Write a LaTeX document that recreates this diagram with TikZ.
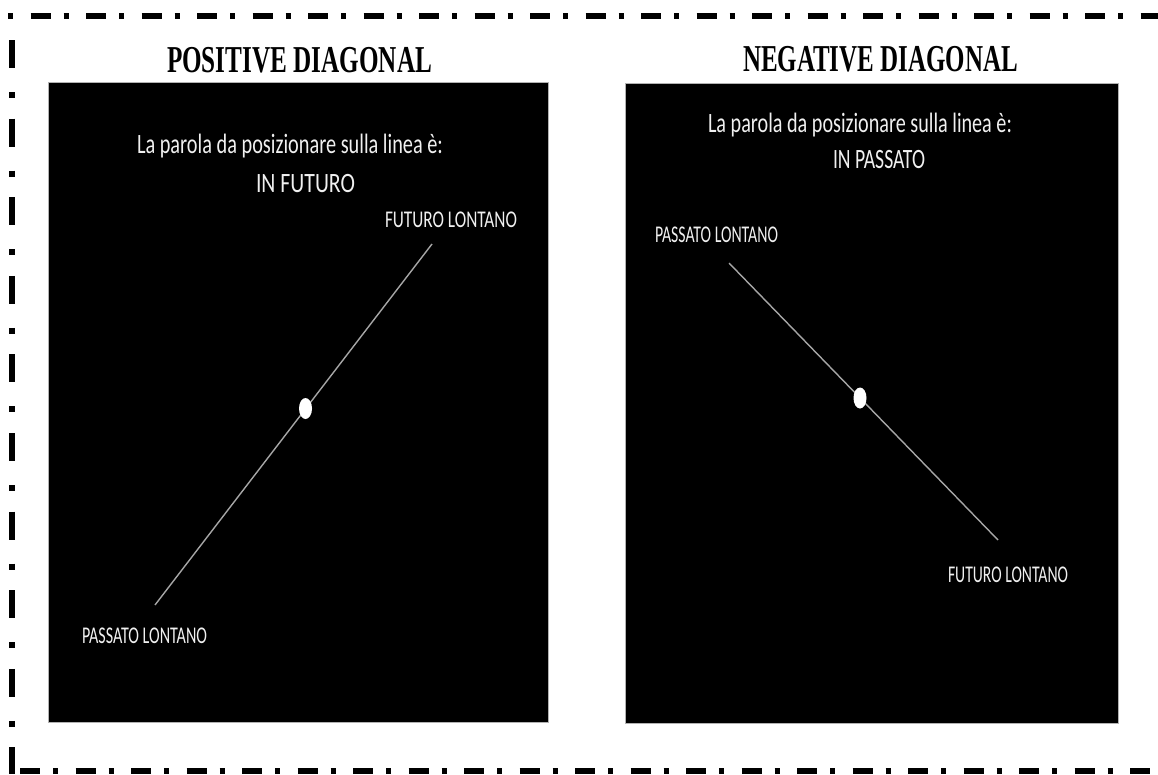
\documentclass[tikz,border=0pt]{standalone}
\usepackage{fontspec}
\usetikzlibrary{shapes.geometric}
\newfontfamily\calib{Carlito}
\newfontfamily\tnr{Liberation Serif}
\newcommand\fitw[3]{\resizebox{#1pt}{\height}{\fontsize{#2pt}{#2pt}\selectfont #3}}
\begin{document}
\begin{tikzpicture}[x=1pt,y=-1pt,
  every node/.style={inner sep=0pt, outer sep=0pt},
  title/.style={anchor=base west, text=black},
  txt/.style={anchor=base west, text=white!94!black},
  panel/.style={fill=black, draw=gray!60, line width=1pt, anchor=north west, minimum height=640pt},
  tline/.style={draw=gray!70!white, line width=1.4pt},
  dotn/.style={ellipse, fill=white, minimum width=13pt, minimum height=21pt},
  border/.style={line width=6pt, black}]
\useasboundingbox[fill=white] (0,0) rectangle (1158,774);
% border
\draw[border, dash pattern=on 5pt off 17.5pt on 20pt off 13pt] (8,16) -- (1158,16);
\draw[border, dash pattern=on 28pt off 24pt on 6pt off 20.6pt] (11.5,40) -- (11.5,774);
\draw[border, dash pattern=on 20pt off 13pt on 5pt off 17.5pt] (20,771) -- (1158,771);
% titles
\node[title] (t1) at (167,72) {\fitw{265}{38}{\tnr\bfseries POSITIVE DIAGONAL}};
\node[title] (t2) at (743,71) {\fitw{275}{38}{\tnr\bfseries NEGATIVE DIAGONAL}};
% panels
\node[panel, minimum width=500pt] (pL) at (48,82) {};
\node[panel, minimum width=493pt] (pR) at (625,83) {};
% left panel
\node[txt] (q1) at (137,153) {\fitw{306}{28}{\calib La parola da posizionare sulla linea è:}};
\node[txt] (w1) at (256,192) {\fitw{99}{28}{\calib IN FUTURO}};
\node[txt] (f1) at (385,227) {\fitw{132}{24}{\calib FUTURO LONTANO}};
\node[txt] (p1) at (82,643) {\fitw{125}{24}{\calib PASSATO LONTANO}};
\coordinate (a1) at (155,605);
\coordinate (a2) at (432,244);
\draw[tline] (a1) -- (a2);
\node[dotn] (d1) at (305.5,408.5) {};
% right panel
\node[txt] (q2) at (708,132) {\fitw{304}{28}{\calib La parola da posizionare sulla linea è:}};
\node[txt] (w2) at (833,168) {\fitw{92}{28}{\calib IN PASSATO}};
\node[txt] (p2) at (655,242) {\fitw{123}{24}{\calib PASSATO LONTANO}};
\node[txt] (f2) at (948,582) {\fitw{120}{24}{\calib FUTURO LONTANO}};
\coordinate (b1) at (729,263);
\coordinate (b2) at (998,540);
\draw[tline] (b1) -- (b2);
\node[dotn] (d2) at (860,398) {};
\end{tikzpicture}
\end{document}
